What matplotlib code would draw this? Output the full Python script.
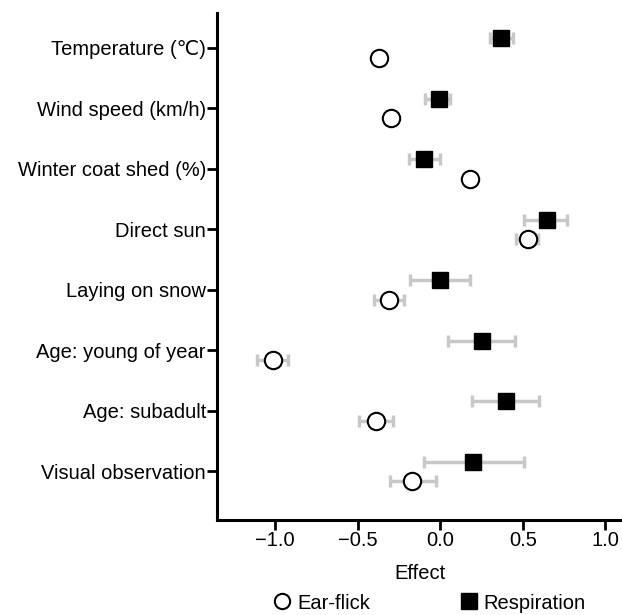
import matplotlib
matplotlib.use("Agg")
import matplotlib.pyplot as plt
import numpy as np
from matplotlib.lines import Line2D

plt.rcParams["font.family"] = ["Liberation Sans", "DejaVu Sans"]

labels = ["Temperature (\u2103)", "Wind speed (km/h)", "Winter coat shed (%)", "Direct sun",
          "Laying on snow", "Age: young of year", "Age: subadult", "Visual observation"]

resp_est = [0.37, -0.01, -0.10, 0.645, 0.00, 0.25, 0.40, 0.20]
resp_lo = [0.30, -0.09, -0.19, 0.51, -0.18, 0.05, 0.19, -0.095]
resp_hi = [0.44, 0.06, 0.00, 0.77, 0.18, 0.45, 0.60, 0.51]

ear_est = [-0.37, -0.30, 0.18, 0.53, -0.31, -1.01, -0.39, -0.17]
ear_lo = [-0.40, -0.33, 0.15, 0.46, -0.40, -1.11, -0.49, -0.305]
ear_hi = [-0.34, -0.27, 0.21, 0.59, -0.22, -0.92, -0.285, -0.025]

resp_est, resp_lo, resp_hi = map(np.array, (resp_est, resp_lo, resp_hi))
ear_est, ear_lo, ear_hi = map(np.array, (ear_est, ear_lo, ear_hi))

ypos = np.arange(len(labels))[::-1]
off = 0.16
err_color = "#c8c8c8"
fs = 14.5

fig = plt.figure(figsize=(6.22, 6.15), dpi=100)
ax = fig.add_axes([0.349, 0.154, 0.651, 0.825])

ax.errorbar(resp_est, ypos + off, xerr=[resp_est - resp_lo, resp_hi - resp_est],
            fmt="none", ecolor=err_color, elinewidth=2.5, capsize=4.5, capthick=2.5, zorder=1)
ax.errorbar(ear_est, ypos - off, xerr=[ear_est - ear_lo, ear_hi - ear_est],
            fmt="none", ecolor=err_color, elinewidth=2.5, capsize=4.5, capthick=2.5, zorder=1)
ax.plot(resp_est, ypos + off, "s", color="black", markersize=12, linestyle="none", zorder=3)
ax.plot(ear_est, ypos - off, "o", markerfacecolor="white", markeredgecolor="black",
        markeredgewidth=1.5, markersize=12.5, linestyle="none", zorder=3)

ax.set_yticks(ypos)
ax.set_yticklabels(labels, fontsize=fs)
ax.set_ylim(-0.81, 7.58)
ax.set_xlim(-1.35, 1.1)
ax.set_xticks([-1.0, -0.5, 0.0, 0.5, 1.0])
ax.set_xticklabels(["\u22121.0", "\u22120.5", "0.0", "0.5", "1.0"], fontsize=fs)
ax.set_xlabel("Effect", fontsize=fs, labelpad=10)

for side in ["top", "right"]:
    ax.spines[side].set_visible(False)
for side in ["left", "bottom"]:
    ax.spines[side].set_linewidth(2.2)
ax.tick_params(axis="both", width=2, length=7, color="black", pad=1)

handles = [
    Line2D([], [], marker="o", linestyle="none", markerfacecolor="white",
           markeredgecolor="black", markeredgewidth=1.5, markersize=11),
    Line2D([], [], marker="s", linestyle="none", color="black", markersize=11),
]
fig.legend(handles, ["Ear-flick", "Respiration"], loc="lower left", ncol=2,
           bbox_to_anchor=(0.434, 0.004), frameon=False, fontsize=fs,
           borderpad=0, borderaxespad=0,
           handletextpad=0.15, columnspacing=4.3, handlelength=1.2)

fig.savefig("out.png", dpi=100)
